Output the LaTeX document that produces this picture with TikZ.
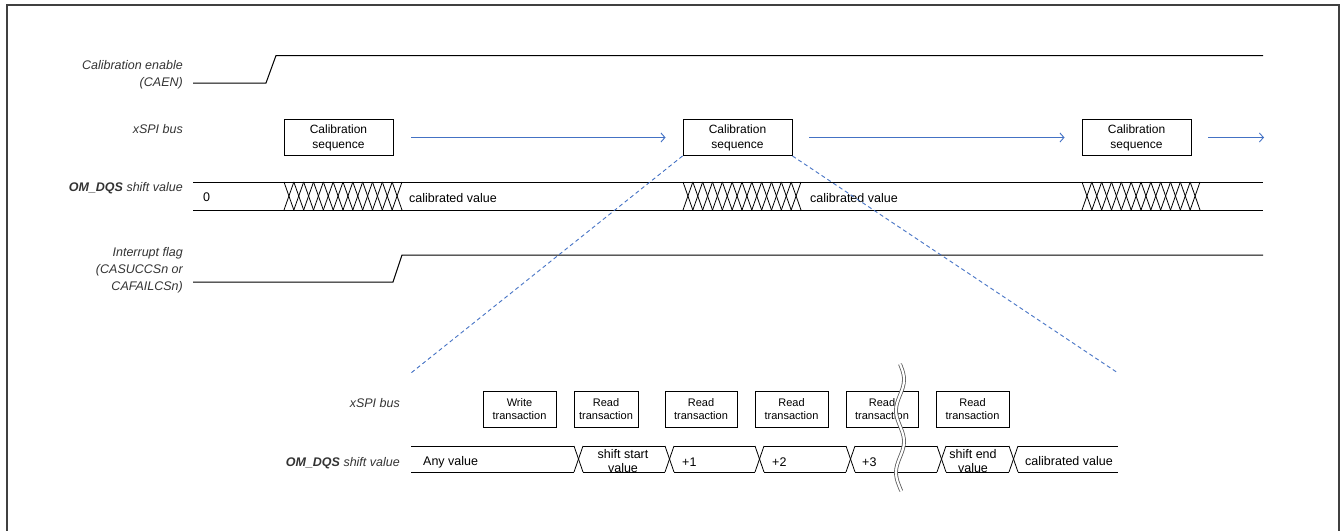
\documentclass[tikz,border=0pt]{standalone}
\usepackage{fontspec}
\setmainfont{Liberation Sans}
\usetikzlibrary{arrows.meta}
\definecolor{myblue}{HTML}{4472C4}
\definecolor{txt}{HTML}{333333}
\definecolor{frm}{HTML}{404040}
\begin{document}
\begin{tikzpicture}[x=1pt,y=-1pt,
  lbl/.style={anchor=east, align=right, font=\fontsize{12.5}{17}\selectfont\itshape, text=txt, inner sep=0},
  cbox/.style={draw, line width=0.9, minimum width=109, minimum height=36, align=center, font=\fontsize{12}{15}\selectfont, inner sep=0},
  tbox/.style={draw, line width=0.9, minimum height=36, align=center, font=\fontsize{11}{13}\selectfont, inner sep=0},
  val/.style={font=\fontsize{12.5}{14}\selectfont, inner sep=0, align=center},
  sig/.style={line width=1},
  flow/.style={myblue, line width=0.9, -{Straight Barb[length=4,width=9]}},
  zoomline/.style={myblue, dash pattern=on 4 off 3, line width=0.9}]
\useasboundingbox (0,0) rectangle (1340,530);
% frame
\draw[frm, line width=1.6] (7,531) -- (7,5) -- (1339,5) -- (1339,531);

% labels (top)
\node[lbl] (lcaen) at (183,74.5) {Calibration enable\\(CAEN)};
\node[lbl] (lbus) at (183,129) {xSPI bus};
\node[lbl] (lom) at (183,188) {\textbf{OM\_DQS} shift value};
\node[lbl] (lint) at (183,270.5) {Interrupt flag\\(CASUCCSn or\\CAFAILCSn)};

% CAEN signal
\draw[sig] (193,83) -- (266,83) -- (276,55.5) -- (1263,55.5);
% interrupt signal
\draw[sig] (193,282) -- (393,282) -- (402,255) -- (1263,255);

% calibration boxes
\node[cbox] (b1) at (338.5,137.5) {Calibration\\sequence};
\node[cbox] (b2) at (737.5,137.5) {Calibration\\sequence};
\node[cbox] (b3) at (1136.5,137.5) {Calibration\\sequence};
\coordinate (aend) at (1264,137.5);
\draw[flow, shorten <=18, shorten >=17] (b1.east) -- (b2.west);
\draw[flow, shorten <=17, shorten >=17] (b2.east) -- (b3.west);
\draw[flow, shorten <=17] (b3.east) -- (aend);

% OM_DQS top row
\draw[sig] (193,182) -- (1263,182);
\draw[sig] (193,210) -- (1263,210);
\foreach \xa/\xb in {284/402, 683/801, 1082/1200}{
  \pgfmathsetmacro{\w}{(\xb-\xa)/12}
  \foreach \i in {0,...,11}{
    \draw[line width=0.8] ({\xa+\i*\w},182) -- ({\xa+(\i+1)*\w},210);
    \draw[line width=0.8] ({\xa+\i*\w},210) -- ({\xa+(\i+1)*\w},182);
  }
}
\node[val, anchor=west] (v0) at (203,197.5) {0};
\node[val, anchor=west] (cv1) at (409,198) {calibrated value};
\node[val, anchor=west] (cv2) at (810,198) {calibrated value};

% zoom lines
\coordinate (zl) at (411,373);
\coordinate (zr) at (1118,373);
\draw[zoomline] (b2.south west) -- (zl);
\draw[zoomline] (b2.south east) -- (zr);

% bottom section
\node[lbl] (lbus2) at (400,403) {xSPI bus};
\node[lbl] (lom2) at (400,463) {\textbf{OM\_DQS} shift value};

\node[tbox, minimum width=73] (t0) at (519.5,409) {Write\\transaction};
\node[tbox, minimum width=64] (t1) at (606,409) {Read\\transaction};
\node[tbox, minimum width=72] (t2) at (701,409) {Read\\transaction};
\node[tbox, minimum width=73] (t3) at (791.5,409) {Read\\transaction};
\node[tbox, minimum width=72] (t4) at (882,409) {Read\\transaction};
\node[tbox, minimum width=73] (t5) at (972.5,409) {Read\\transaction};

% bottom value row
\foreach \xa/\xb in {411/574, 583/665, 674/755, 764/846, 855/937, 946/1009, 1018/1118}{
  \draw[sig] (\xa,446) -- (\xb,446);
  \draw[sig] (\xa,472) -- (\xb,472);
}
\foreach \xa in {574, 665, 755, 846, 937, 1009}{
  \draw[line width=0.8] (\xa,446) -- ({\xa+9},472);
  \draw[line width=0.8] (\xa,472) -- ({\xa+9},446);
}
\node[val, anchor=west] (any) at (423,462) {Any value};
\node[val] (ss) at (623,461) {shift start\\value};
\node[val, anchor=west] (p1) at (682,462) {+1};
\node[val, anchor=west] (p2) at (772,462) {+2};
\node[val, anchor=west] (p3) at (862,462) {+3};
\node[val] (se) at (973,461) {shift end\\value};
\node[val, anchor=west] (cv3) at (1025,461) {calibrated value};

% break symbol
\draw[double=white, double distance=2.2, draw=gray!70!black, line width=0.8]
  plot[smooth, variable=\t, domain=0:127, samples=40] ({900+4*sin(\t*5.806)}, {364+\t});
\end{tikzpicture}
\end{document}
